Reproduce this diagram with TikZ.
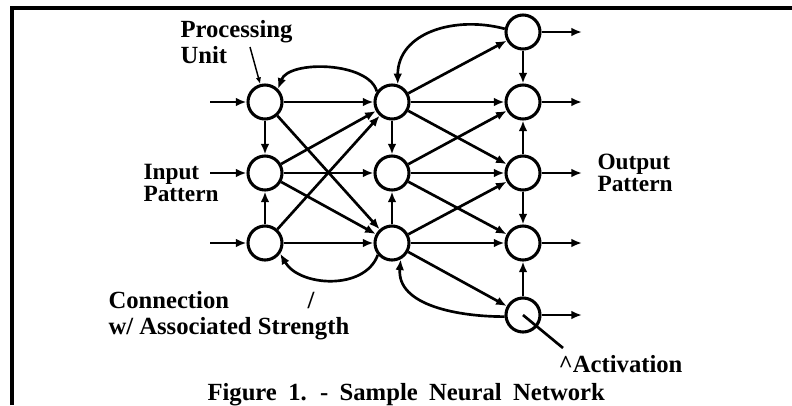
\documentclass[tikz,border=0pt]{standalone}
\usepackage{fontspec}
\setmainfont{Liberation Serif}
\usetikzlibrary{arrows.meta}

\tikzset{every picture/.style={line width=0.75pt}}
\tikzset{
  unit/.style={circle, draw, line width=2.3pt, minimum size=25.5pt, inner sep=0pt},
  link/.style={line width=2pt, -{Latex[length=8pt,width=6.5pt]}},
  ptr/.style={line width=1.1pt, -{Latex[length=5pt,width=4pt]}},
  lbl/.style={inner sep=0pt, align=left, font=\bfseries\fontsize{18.5}{19.5}\selectfont},
  pat/.style={inner sep=0pt, align=left, font=\bfseries\fontsize{17.5}{12.75}\selectfont}
}

\begin{document}
\begin{tikzpicture}[x=0.75pt,y=0.75pt,yscale=-1,xscale=1]
\useasboundingbox (0,0) rectangle (792,405);

%Frame
\draw [line width=3pt] (12,405) -- (12,8) -- (792,8) ;

%Input units
\node [unit] (i1) at (265,102) {};
\node [unit] (i2) at (265,173) {};
\node [unit] (i3) at (265,243) {};
%Hidden units
\node [unit] (h1) at (392,102) {};
\node [unit] (h2) at (392,173) {};
\node [unit] (h3) at (392,243) {};
%Output units
\node [unit] (o1) at (523,32) {};
\node [unit] (o2) at (523,102) {};
\node [unit] (o3) at (523,173) {};
\node [unit] (o4) at (523,243) {};
\node [unit] (o5) at (523,315) {};

%Free ends
\coordinate (a1) at (210,102);
\coordinate (a2) at (210,173);
\coordinate (a3) at (210,243);
\coordinate (z1) at (582,32);
\coordinate (z2) at (582,102);
\coordinate (z3) at (582,173);
\coordinate (z4) at (582,243);
\coordinate (z5) at (582,315);
\coordinate (pu) at (250,47);
\coordinate (act) at (563,348);

%Pattern in and out
\draw [link] (a1) -- (i1) ;
\draw [link] (a2) -- (i2) ;
\draw [link] (a3) -- (i3) ;
\draw [link] (o1) -- (z1) ;
\draw [link] (o2) -- (z2) ;
\draw [link] (o3) -- (z3) ;
\draw [link] (o4) -- (z4) ;
\draw [link] (o5) -- (z5) ;

%Within layers
\draw [link] (i1) -- (i2) ;
\draw [link] (i3) -- (i2) ;
\draw [link] (h1) -- (h2) ;
\draw [link] (h3) -- (h2) ;
\draw [link] (o1) -- (o2) ;
\draw [link] (o3) -- (o2) ;
\draw [link] (o3) -- (o4) ;
\draw [link] (o5) -- (o4) ;

%Input to hidden
\draw [link] (i1) -- (h1) ;
\draw [link] (i1) -- (h3) ;
\draw [link] (i2) -- (h1) ;
\draw [link] (i2) -- (h2) ;
\draw [link] (i2) -- (h3) ;
\draw [link] (i3) -- (h1) ;
\draw [link] (i3) -- (h3) ;

%Hidden to output
\draw [link] (h1) -- (o1) ;
\draw [link] (h1) -- (o2) ;
\draw [link] (h1) -- (o3) ;
\draw [link] (h2) -- (o2) ;
\draw [link] (h2) -- (o3) ;
\draw [link] (h2) -- (o4) ;
\draw [link] (h3) -- (o3) ;
\draw [link] (h3) -- (o4) ;
\draw [link] (h3) -- (o5) ;

%Feedback arcs (angles flipped by yscale=-1)
\draw [link] (h1.145) to [out=-105,in=-70,looseness=0.8] (i1.45) ;
\draw [link] (h3.220) to [out=110,in=60,looseness=1] (i3.-35) ;
\draw [link] (o1.170) to [out=-165,in=-90,looseness=1.1] (h1.72) ;
\draw [link] (o5.185) to [out=180,in=95] (h3.-62) ;

%Pointers
\draw [ptr] (pu) -- (i1.105) ;
\draw [line width=2pt] (o5.center) -- (act) ;

% Text Node
\node [lbl, anchor=north west] (plbl) at (180,20) {Processing\\Unit};
% Text Node
\node [pat, anchor=north west] (ilbl) at (143,164) {Input\\Pattern};
% Text Node
\node [pat, anchor=north west] (olbl) at (597,154) {Output\\Pattern};
% Text Node
\node [lbl, anchor=north west] (clbl) at (108,291) {Connection\\w/ Associated Strength};
% Text Node
\node [lbl, anchor=base west] (slash) at (307,308) {/};
% Text Node
\node [lbl, anchor=base west] (albl) at (558,372) {\^{}Activation};
% Text Node
\node [lbl, anchor=base west] (cap) at (207,400) {\spaceskip=8.5pt plus 1pt Figure 1. - Sample Neural Network};

\end{tikzpicture}
\end{document}
